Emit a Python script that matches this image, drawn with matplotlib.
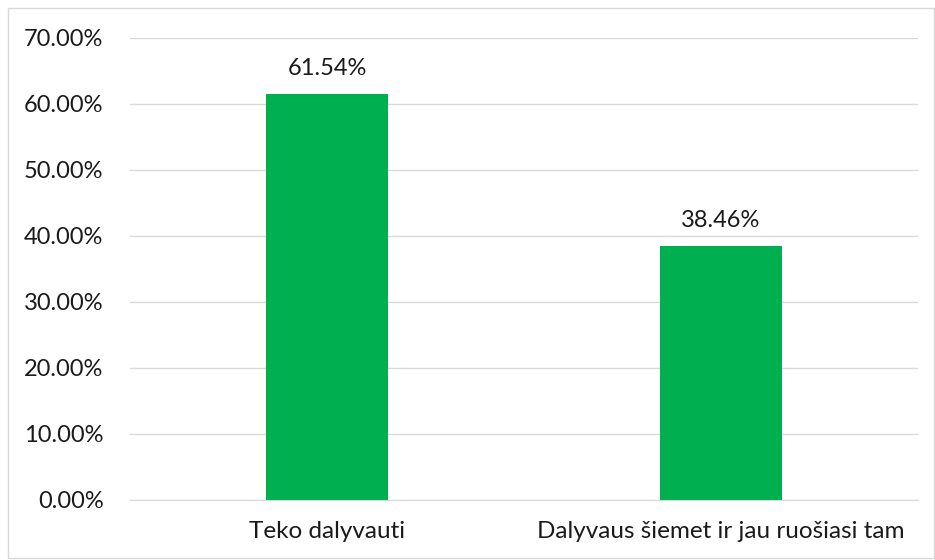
import numpy as np
import matplotlib.pyplot as plt
from matplotlib.ticker import FuncFormatter

# Datos
categorias = ['Teko dalyvauti', 'Dalyvaus šiemet ir jau ruošiasi tam']
valores = [61.54, 38.46]

plt.rcParams['font.family'] = ['Lato', 'DejaVu Sans']

fig = plt.figure(figsize=(9.35, 5.6), dpi=100)
ax = fig.add_axes([130/935, 60/560, 788/935, 462/560])

x = np.arange(len(categorias))
barras = ax.bar(x, valores, width=0.31, color='#00b050', zorder=3)

for b, v in zip(barras, valores):
    ax.annotate(f'{v:.2f}%', (b.get_x() + b.get_width()/2, v),
                xytext=(0, 11), textcoords='offset points',
                ha='center', va='bottom', fontsize=17, color='#1a1a1a')

ax.set_xlim(-0.5, 1.5)
ax.set_ylim(0, 70)
ax.set_yticks(np.arange(0, 71, 10))
ax.yaxis.set_major_formatter(FuncFormatter(lambda v, p: f'{v:.2f}%'))
ax.set_xticks(x)
ax.set_xticklabels(categorias)
ax.tick_params(axis='both', length=0, colors='#1a1a1a')
ax.tick_params(axis='y', pad=19, labelsize=17)
ax.tick_params(axis='x', pad=15, labelsize=17.5)
ax.grid(axis='y', color='#d9d9d9', linewidth=1, zorder=0)
for s in ['top', 'right', 'left']:
    ax.spines[s].set_visible(False)
ax.spines['bottom'].set_color('#d9d9d9')

# marco exterior
fig.patches.append(plt.Rectangle((8/935, 2/560), 926/935, 550/560, transform=fig.transFigure,
                                 fill=False, edgecolor='#d9d9d9', linewidth=1))

fig.savefig('out.png', dpi=100)
